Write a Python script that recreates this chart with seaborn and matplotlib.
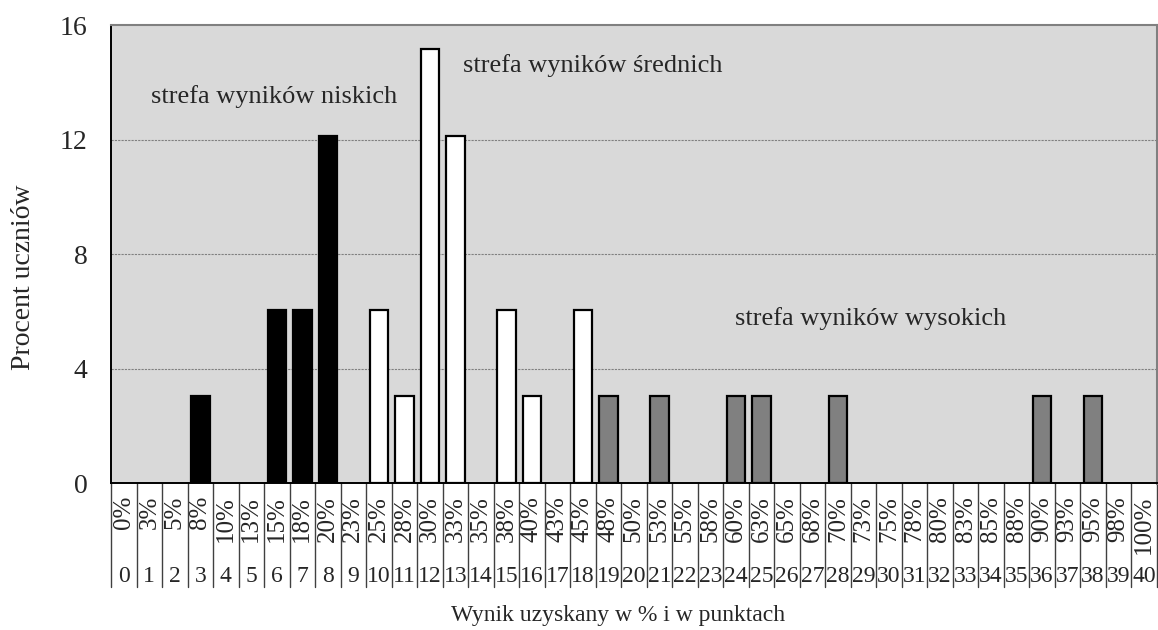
import pandas as pd
import matplotlib
matplotlib.use('Agg')
import matplotlib.pyplot as plt
import matplotlib.transforms as mtransforms
import seaborn as sns

points = list(range(41))
percent_labels = ['0%', '3%', '5%', '8%', '10%', '13%', '15%', '18%', '20%', '23%',
                  '25%', '28%', '30%', '33%', '35%', '38%', '40%', '43%', '45%', '48%',
                  '50%', '53%', '55%', '58%', '60%', '63%', '65%', '68%', '70%', '73%',
                  '75%', '78%', '80%', '83%', '85%', '88%', '90%', '93%', '95%', '98%', '100%']

bar_points = [3, 6, 7, 8, 10, 11, 12, 13, 15, 16, 18, 19, 21, 24, 25, 28, 36, 38]
bar_values = [3.03, 6.06, 6.06, 12.12, 6.06, 3.03, 15.15, 12.12, 6.06, 3.03, 6.06,
              3.03, 3.03, 3.03, 3.03, 3.03, 3.03, 3.03]
zones = ['niskie'] * 4 + ['średnie'] * 7 + ['wysokie'] * 7
zone_colors = {'niskie': 'black', 'średnie': 'white', 'wysokie': '#808080'}

df = pd.DataFrame({'punkty': [str(p) for p in bar_points],
                   'procent': bar_values,
                   'strefa': zones})

sns.set_style('white')
plt.rcParams['font.family'] = ['Liberation Serif', 'DejaVu Serif']

fig = plt.figure(figsize=(11.58, 6.3), dpi=100)
ax = fig.add_axes([0.0959, 0.2333, 0.9031, 0.727])
ax.set_facecolor('#D9D9D9')

sns.barplot(data=df, x='punkty', y='procent', hue='strefa', order=[str(p) for p in points],
            palette=zone_colors, dodge=False, width=0.72, edgecolor='black', linewidth=1.6,
            legend=False, ax=ax, zorder=3)

ax.set_xlim(-0.5, 40.5)
ax.set_ylim(0, 16)
ax.set_yticks([0, 4, 8, 12, 16])
ax.tick_params(axis='y', labelsize=20, length=10, color='#808080', direction='out', pad=7)
ax.set_xticks([])
ax.set_xlabel('')
ax.set_ylabel('')
fig.text(0.020, 0.56, 'Procent uczniów', rotation=90, ha='center', va='center', fontsize=20)
for yv in [4, 8, 12]:
    ax.axhline(yv, color='#808080', linewidth=0.8, linestyle=(0, (2, 1)), zorder=1)

ax.spines['left'].set_color('black')
ax.spines['left'].set_linewidth(1.4)
ax.spines['bottom'].set_color('black')
ax.spines['bottom'].set_linewidth(1.4)
ax.spines['top'].set_color('#808080')
ax.spines['top'].set_linewidth(1.5)
ax.spines['right'].set_color('#808080')
ax.spines['right'].set_linewidth(2.2)

# table below the axis
trans = mtransforms.blended_transform_factory(ax.transData, ax.transAxes)
for i in range(42):
    ax.plot([i - 0.5, i - 0.5], [0, -0.227], transform=trans, color='#404040',
            linewidth=1.0, clip_on=False)
for p, lab in zip(points, percent_labels):
    ax.text(p, -0.028, lab, transform=trans, rotation=90, ha='center', va='top',
            fontsize=18)
    ax.text(p, -0.216, str(p), transform=trans, ha='center', va='baseline', fontsize=17)

fig.text(0.534, 0.015, 'Wynik uzyskany w % i w punktach', ha='center', va='baseline',
         fontsize=17)

ax.text(1.07, 13.5, 'strefa wyników niskich', fontsize=19, va='center', ha='left')
ax.text(13.3, 14.6, 'strefa wyników średnich', fontsize=19, va='center', ha='left')
ax.text(23.97, 5.73, 'strefa wyników wysokich', fontsize=19, va='center', ha='left')

fig.savefig('out.png', dpi=100)
